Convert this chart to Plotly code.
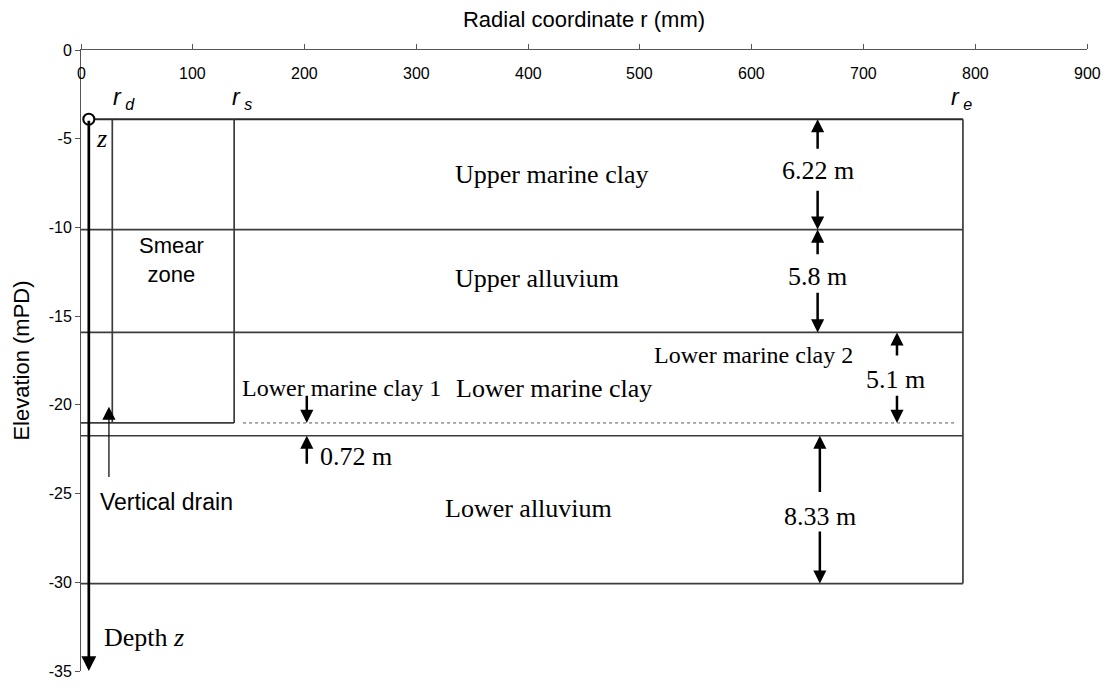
import plotly.graph_objects as go

# ---------------- data ----------------
layer_names = ["Upper marine clay", "Upper alluvium", "Lower marine clay", "Lower alluvium"]
thickness_labels = ["6.22 m", "5.8 m", "5.1 m", "0.72 m", "8.33 m"]
thickness = [6.22, 5.8, 5.1, 0.72, 8.33]
top_elev = -3.9
r_w = 7      # drain position (mm)
r_d = 28     # drain radius
r_s = 137    # smear zone radius
r_e = 789    # influence radius
x_ticks = [0, 100, 200, 300, 400, 500, 600, 700, 800, 900]
x_tick_labels = ["0", "100", "200", "300", "400", "500", "600", "700", "800", "900"]
y_ticks = [-35, -30, -25, -20, -15, -10, -5, 0]
y_tick_labels = ["-35", "-30", "-25", "-20", "-15", "-10", "-5", "0"]

# layer boundaries (elevations)
bounds = [top_elev]
for t in thickness:
    bounds.append(round(bounds[-1] - t, 2))

LINE = dict(color="#3c3c3c", width=1.7)
SERIF = "Liberation Serif, Times New Roman, serif"
SANS = "Liberation Sans, Arial, sans-serif"

fig = go.Figure()

def seg(x0, y0, x1, y1, line=LINE):
    fig.add_trace(go.Scatter(x=[x0, x1], y=[y0, y1], mode="lines", line=line,
                             hoverinfo="skip", showlegend=False))

seg(r_w, bounds[0], r_e, bounds[0], dict(color="#2a2a2a", width=2))
for b in [bounds[1], bounds[2], bounds[4], bounds[5]]:
    seg(0, b, r_e, b)
seg(r_e, bounds[0], r_e, bounds[5])
seg(r_d, bounds[0], r_d, bounds[3])
seg(r_s, bounds[0], r_s, bounds[3])
seg(0, bounds[3], r_s, bounds[3])
seg(145, bounds[3], 783, bounds[3], dict(color="#555555", width=1, dash="dot"))

# vertical drain
fig.add_annotation(x=r_w, y=-35, ax=r_w, ay=bounds[0], xref="x", yref="y",
                   axref="x", ayref="y", showarrow=True, arrowhead=2,
                   arrowsize=1.1, arrowwidth=2.7, arrowcolor="black", text="")
fig.add_trace(go.Scatter(x=[r_w], y=[bounds[0]], mode="markers",
                         marker=dict(size=11, color="white",
                                     line=dict(color="black", width=2)),
                         hoverinfo="skip", showlegend=False))

def arrow(x, tip, tail, w=2.5, s=1.05):
    fig.add_annotation(x=x, y=tip, ax=x, ay=tail, xref="x", yref="y",
                       axref="x", ayref="y", showarrow=True, arrowhead=2,
                       arrowsize=s, arrowwidth=w, arrowcolor="black", text="")

arrow(659, bounds[0], -5.65); arrow(659, bounds[1], -7.85)
arrow(659, bounds[1], -11.6); arrow(659, bounds[2], -13.6)
arrow(730, bounds[2], -17.3); arrow(730, bounds[3], -19.4)
arrow(661, bounds[4], -25.0); arrow(661, bounds[5], -27.05)
arrow(202, bounds[3], -19.4); arrow(202, bounds[4], -23.4)
arrow(25, -20.1, -24.15, w=1.2, s=2.2)

def text(x, y, s, size=26, font=SERIF, anchor="center"):
    fig.add_annotation(x=x, y=y, xref="x", yref="y", text=s, showarrow=False,
                       xanchor=anchor, yanchor="middle",
                       font=dict(family=font, size=size, color="black"))

text(659, -6.78, thickness_labels[0])
text(659, -12.78, thickness_labels[1])
text(729, -18.55, thickness_labels[2])
text(212, -22.9, thickness_labels[3], anchor="left")
text(661, -26.3, thickness_labels[4])

text(421, -7.0, layer_names[0])
text(408, -12.9, layer_names[1])
text(423, -19.1, layer_names[2])
text(400, -25.85, layer_names[3])
text(233, -19.05, "Lower marine clay 1", size=24)
text(602, -17.2, "Lower marine clay 2", size=24)

text(81, -11.85, "Smear<br>zone", size=22, font=SANS)
text(15, -25.5, "Vertical drain", size=23, font=SANS, anchor="left")
text(19, -33.1, "Depth <i>z</i>", anchor="left")
text(11.5, -5.0, "<i>z</i>", anchor="left")

text(38.5, -2.75, "<i>r</i><sub><i> d</i></sub>", size=23, font=SANS)
text(144, -2.75, "<i>r</i><sub><i> s</i></sub>", size=23, font=SANS)
text(788, -2.75, "<i>r</i><sub><i> e</i></sub>", size=23, font=SANS)

# x tick labels (drawn below the top axis line)
for v, lab in zip(x_ticks, x_tick_labels):
    text(v, -1.35, lab, size=16, font=SANS)

fig.update_layout(
    width=1108, height=691,
    margin=dict(l=81, r=21, t=50, b=11),
    plot_bgcolor="white", paper_bgcolor="white",
    font=dict(family=SANS, size=16, color="black"),
    xaxis=dict(range=[0, 900], side="top", tickvals=x_ticks,
               showticklabels=False,
               ticks="outside", ticklen=5, tickcolor="#555",
               showline=True, linecolor="#555",
               linewidth=1, showgrid=False, zeroline=False,
               title=dict(text="Radial coordinate r (mm)", standoff=10,
                          font=dict(size=22))),
    yaxis=dict(range=[-35, 0], tickvals=y_ticks, ticktext=y_tick_labels,
               ticks="outside", ticklen=5,
               tickcolor="#555", showline=True, linecolor="#555", linewidth=1,
               showgrid=False, zeroline=False,
               tickfont=dict(size=16),
               title=dict(text="Elevation (mPD)", standoff=12,
                          font=dict(size=22))),
)

fig.write_html("out.html")
